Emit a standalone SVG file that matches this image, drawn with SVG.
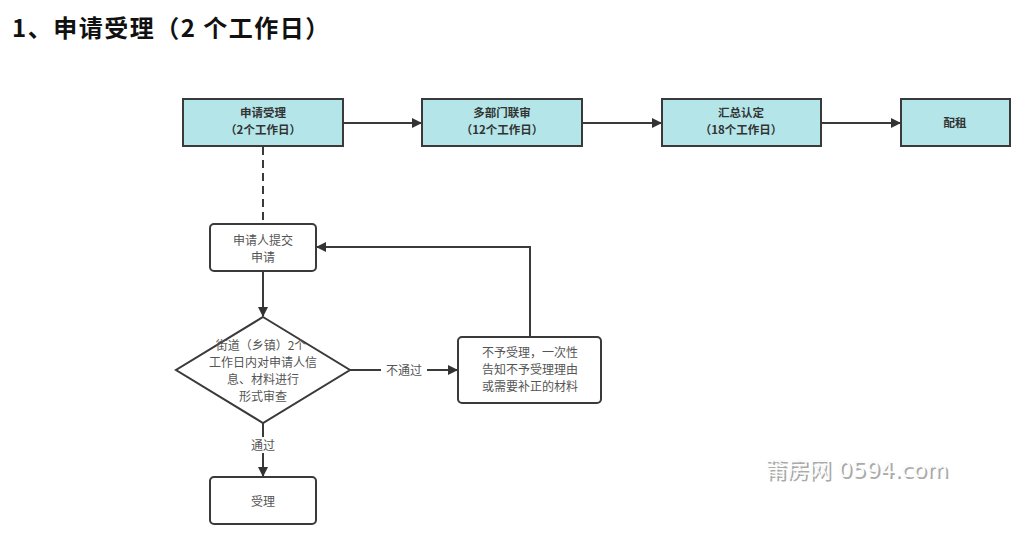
<svg xmlns="http://www.w3.org/2000/svg" width="1024" height="538" viewBox="0 0 1024 538">
<defs>
<marker id="ah" viewBox="0 0 10 10" refX="9" refY="5" markerWidth="10" markerHeight="10" markerUnits="userSpaceOnUse" orient="auto">
<path d="M0,0 L10,5 L0,10 z" fill="#333"/>
</marker>
<style>
.top rect{fill:#b4e6e9;stroke:#3a3a3a;stroke-width:2}
.box rect,.box polygon{fill:#fff;stroke:#3a3a3a;stroke-width:2}
.tt{font-family:"Noto Sans CJK SC","Liberation Sans",sans-serif;font-size:11.5px;font-weight:bold;fill:#333;text-anchor:middle}
.bt{font-family:"Noto Sans CJK SC","Liberation Sans",sans-serif;font-size:12px;fill:#555;text-anchor:middle}
.ln{fill:none;stroke:#3a3a3a;stroke-width:2}
.wm{font-family:"DejaVu Sans","Noto Sans CJK SC",sans-serif;font-size:22px}
</style>
</defs>
<rect width="1024" height="538" fill="#fff"/>
<text x="12" y="37" font-family="Noto Sans CJK SC, sans-serif" font-size="24" font-weight="bold" fill="#111" letter-spacing="1.5">1、申请受理（2 个工作日）</text>

<g id="connectors">
<line class="ln" x1="343" y1="123" x2="421" y2="123" marker-end="url(#ah)"/>
<line class="ln" x1="582" y1="123" x2="661" y2="123" marker-end="url(#ah)"/>
<line class="ln" x1="821" y1="123" x2="900" y2="123" marker-end="url(#ah)"/>
<line class="ln" x1="263" y1="147" x2="263" y2="224" stroke-dasharray="8,5"/>
<line class="ln" x1="263" y1="271" x2="263" y2="316" marker-end="url(#ah)"/>
<line class="ln" x1="350" y1="370" x2="457" y2="370" marker-end="url(#ah)"/>
<path class="ln" d="M530,337 L530,247 L317,247" marker-end="url(#ah)"/>
<line class="ln" x1="263" y1="423" x2="263" y2="476" marker-end="url(#ah)"/>
<rect x="381" y="362" width="46" height="16" fill="#fff"/>
<text class="bt" x="404" y="374.5">不通过</text>
<rect x="249" y="437" width="28" height="16" fill="#fff"/>
<text class="bt" x="263" y="449.5">通过</text>
</g>

<g id="n1" class="top"><rect x="183" y="99" width="160" height="47"/><text class="tt" x="263" y="117">申请受理</text><text class="tt" x="263" y="134">（2个工作日）</text></g>
<g id="n2" class="top"><rect x="422" y="99" width="160" height="47"/><text class="tt" x="502" y="117">多部门联审</text><text class="tt" x="502" y="134">（12个工作日）</text></g>
<g id="n3" class="top"><rect x="662" y="99" width="159" height="47"/><text class="tt" x="741" y="117">汇总认定</text><text class="tt" x="741" y="134">（18个工作日）</text></g>
<g id="n4" class="top"><rect x="901" y="99" width="109" height="47"/><text class="tt" x="955" y="127">配租</text></g>

<g id="n5" class="box"><rect x="210" y="224" width="106" height="47" rx="4"/><text class="bt" x="263" y="245">申请人提交</text><text class="bt" x="263" y="262">申请</text></g>
<g id="n6" class="box"><polygon points="263,317 350,370 263,423 176,370"/>
<text class="bt" x="261" y="350">街道（乡镇）2个</text>
<text class="bt" x="263" y="367">工作日内对申请人信</text>
<text class="bt" x="263" y="384">息、材料进行</text>
<text class="bt" x="263" y="401">形式审查</text></g>
<g id="n7" class="box"><rect x="458" y="337" width="143" height="66" rx="4"/>
<text class="bt" x="530" y="357">不予受理，一次性</text>
<text class="bt" x="530" y="374">告知不予受理理由</text>
<text class="bt" x="530" y="391">或需要补正的材料</text></g>
<g id="n8" class="box"><rect x="210" y="477" width="106" height="47" rx="4"/><text class="bt" x="263" y="506">受理</text></g>

<g id="watermark">
<text class="wm" x="767" y="479" fill="#aaa">莆房网 0594.com</text>
<text class="wm" x="765" y="477" fill="#fbfbfb">莆房网 0594.com</text>
</g>
</svg>
